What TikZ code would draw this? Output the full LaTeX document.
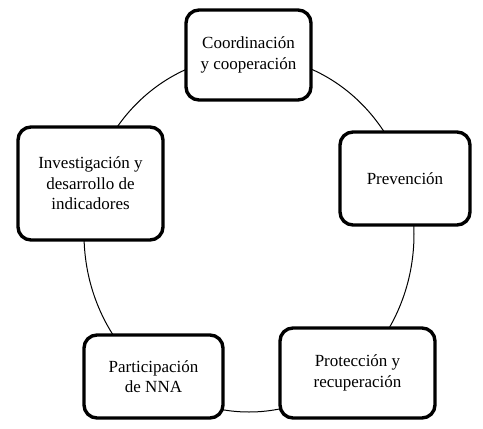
\documentclass[tikz,border=0pt]{standalone}
\usepackage{fontspec}
\setmainfont{Liberation Serif}
\begin{document}
\begin{tikzpicture}[x=1pt,y=-1pt,
  box/.style={draw=black, line width=3.4pt, rounded corners=13pt, fill=white,
    align=center, inner sep=0pt, font=\fontsize{17}{20.5}\selectfont},
  ring/.style={draw=black, line width=1pt}]
\useasboundingbox (0,0) rectangle (483,429);
\draw[ring] (249,234) ellipse [x radius=165pt, y radius=178pt];
\node[box, minimum width=125pt, minimum height=90pt] (coord) at (248.5,55) {Coordinación\\y cooperación};
\node[box, minimum width=130pt, minimum height=93pt] (prev) at (405,178.5) {Prevención};
\node[box, minimum width=145pt, minimum height=113pt] (inv) at (90.5,183.5) {Investigación y\\desarrollo de\\indicadores};
\node[box, minimum width=139pt, minimum height=83pt] (part) at (153.5,376.5) {Participación\\de NNA};
\node[box, minimum width=155pt, minimum height=90pt] (prot) at (357.5,373) {Protección y\\recuperación};
\end{tikzpicture}
\end{document}
